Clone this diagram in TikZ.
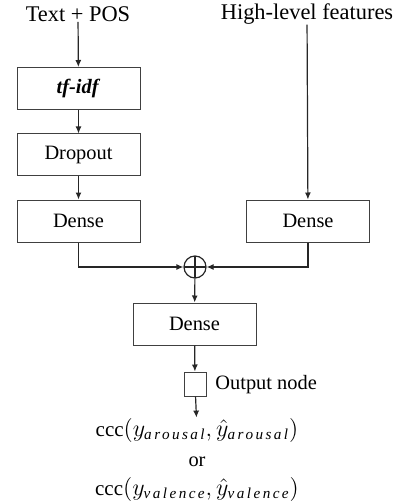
\documentclass[tikz,border=0pt]{standalone}
\usepackage{amsmath}
\usepackage{fontspec}
\setmainfont{Liberation Serif}
\usepackage{tikz}
\usetikzlibrary{arrows.meta}

\newcommand{\lossub}[1]{\mbox{\fontsize{7.6}{8}\selectfont\itshape\addfontfeature{LetterSpace=16}#1}}

\begin{document}
\begin{tikzpicture}[x=0.5pt,y=-0.5pt,
    layer/.style={rectangle,draw=black!75,line width=0.5pt,minimum width=61.5pt,minimum height=21pt,inner sep=0pt,font=\fontsize{10.2}{12}\selectfont},
    title/.style={font=\fontsize{11.2}{13}\selectfont,inner sep=0pt},
    small/.style={font=\fontsize{10.2}{12}\selectfont,inner sep=0pt},
    loss/.style={font=\fontsize{12.5}{14}\selectfont,inner sep=0pt},
    flow/.style={line width=0.6pt,black!85,-{Latex[length=3.5pt,width=3pt]}}]
                      \useasboundingbox (0,0) rectangle (400,502);

                      % inputs
                      \node (text) at (78,14) [title] {Text + POS};
                      \node (high) at (307,14) [title] {High-level features};

                      % left branch
                      \node (tfidf) at (78.5,88.5) [layer] {\textbf{\textit{tf-idf}}};
                      \node (drop) at (78.5,155) [layer] {Dropout};
                      \node (dense1) at (78.5,221) [layer] {Dense};

                      % right branch
                      \node (dense2) at (308,221) [layer] {Dense};

                      % merge
                      \node (plus) at (195,267) [circle,draw=black!85,line width=0.6pt,minimum size=11pt,inner sep=0pt,
                            path picture={\draw[line width=0.6pt,black!85] (path picture bounding box.north) -- (path picture bounding box.south)
                                         (path picture bounding box.west) -- (path picture bounding box.east);}] {};
                      \node (dense3) at (194.5,324) [layer] {Dense};
                      \node (out) at (195,384) [rectangle,draw=black!75,line width=0.5pt,minimum width=11pt,minimum height=12pt,inner sep=0pt] {};
                      \node (outlab) at (215,385) [small,anchor=west] {Output node};

                      % loss
                      \node (ccc1) at (197,430) [loss] {{\fontsize{10.5}{12}\selectfont ccc}$(y_{\lossub{arousal}},\hat{y}_{\lossub{arousal}})$};
                      \node (or) at (197,462) [small] {or};
                      \node (ccc2) at (197,489) [loss] {{\fontsize{10.5}{12}\selectfont ccc}$(y_{\lossub{valence}},\hat{y}_{\lossub{valence}})$};

                      \draw[flow] (text) -- (tfidf);
                      \draw[flow] (tfidf) -- (drop);
                      \draw[flow] (drop) -- (dense1);
                      \draw[flow] (high) -- (dense2);
                      \draw[flow] (dense1.south) |- (plus.west);
                      \draw[flow] (dense2.south) |- (plus.east);
                      \draw[flow] (plus) -- (dense3);
                      \draw[flow] (dense3) -- (out);
                      \draw[flow] (out) -- (ccc1);
                \end{tikzpicture}
\end{document}
